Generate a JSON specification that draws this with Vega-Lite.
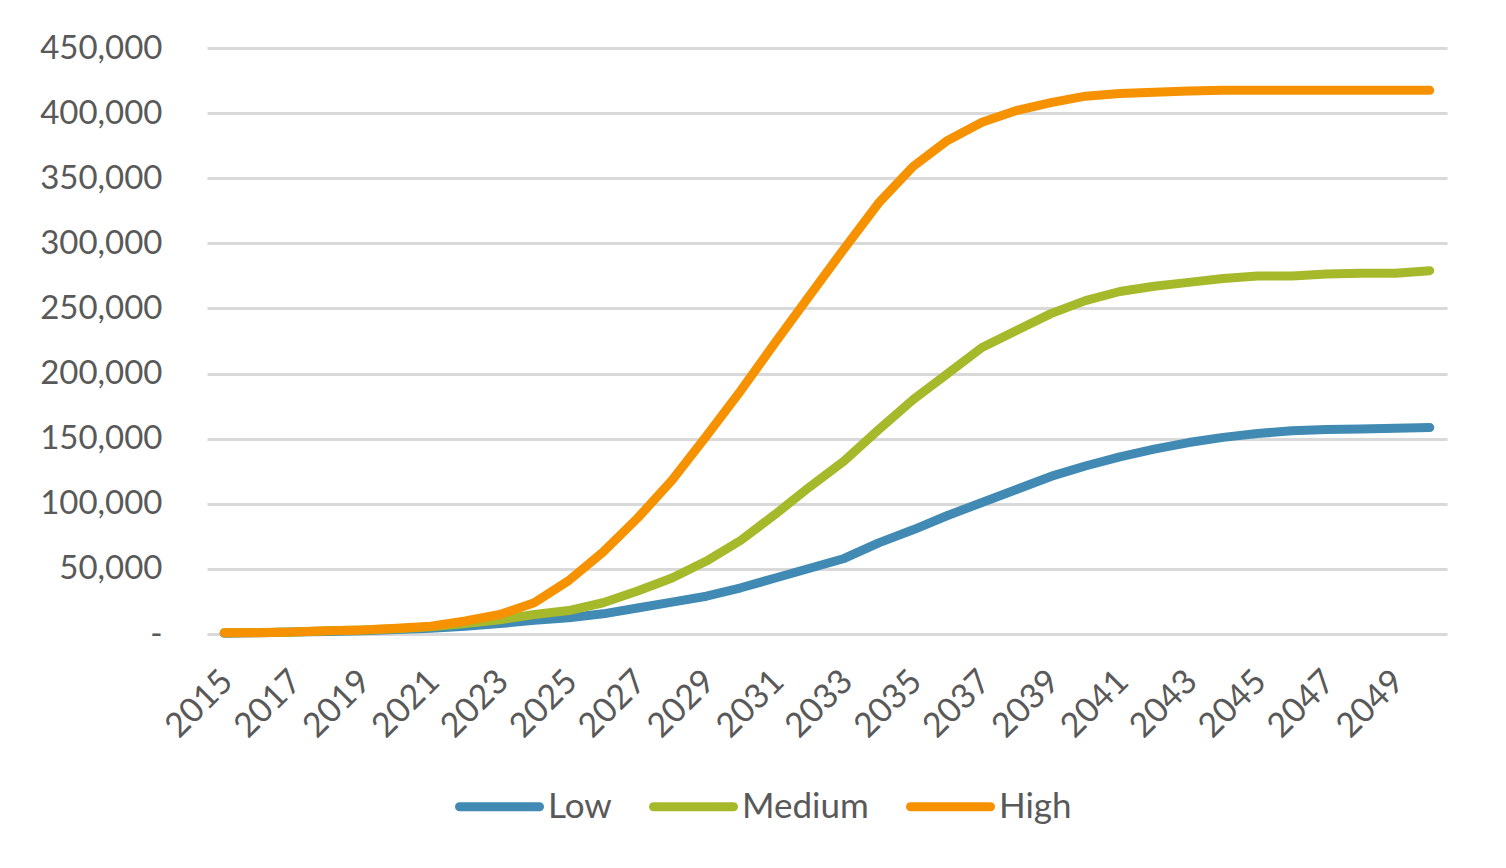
{
  "$schema": "https://vega.github.io/schema/vega-lite/v6.json",
  "width": 1240,
  "height": 586,
  "autosize": {"type": "none"},
  "padding": {"left": 207, "top": 48, "right": 59, "bottom": 234},
  "background": "white",
  "config": {
    "view": {"stroke": null},
    "font": "Lato",
    "axis": {"labelFont": "Lato", "labelFontSize": 33, "labelColor": "#595959"}
  },
  "data": {
    "values": [
      {"year": 2015, "scenario": "Low", "value": 500},
      {"year": 2016, "scenario": "Low", "value": 1000},
      {"year": 2017, "scenario": "Low", "value": 1500},
      {"year": 2018, "scenario": "Low", "value": 2000},
      {"year": 2019, "scenario": "Low", "value": 2500},
      {"year": 2020, "scenario": "Low", "value": 3500},
      {"year": 2021, "scenario": "Low", "value": 4500},
      {"year": 2022, "scenario": "Low", "value": 6000},
      {"year": 2023, "scenario": "Low", "value": 8000},
      {"year": 2024, "scenario": "Low", "value": 10500},
      {"year": 2025, "scenario": "Low", "value": 12500},
      {"year": 2026, "scenario": "Low", "value": 15500},
      {"year": 2027, "scenario": "Low", "value": 20000},
      {"year": 2028, "scenario": "Low", "value": 24500},
      {"year": 2029, "scenario": "Low", "value": 29000},
      {"year": 2030, "scenario": "Low", "value": 35500},
      {"year": 2031, "scenario": "Low", "value": 43000},
      {"year": 2032, "scenario": "Low", "value": 50500},
      {"year": 2033, "scenario": "Low", "value": 58000},
      {"year": 2034, "scenario": "Low", "value": 70000},
      {"year": 2035, "scenario": "Low", "value": 80000},
      {"year": 2036, "scenario": "Low", "value": 91000},
      {"year": 2037, "scenario": "Low", "value": 101000},
      {"year": 2038, "scenario": "Low", "value": 111000},
      {"year": 2039, "scenario": "Low", "value": 121000},
      {"year": 2040, "scenario": "Low", "value": 129000},
      {"year": 2041, "scenario": "Low", "value": 136000},
      {"year": 2042, "scenario": "Low", "value": 142000},
      {"year": 2043, "scenario": "Low", "value": 147000},
      {"year": 2044, "scenario": "Low", "value": 151000},
      {"year": 2045, "scenario": "Low", "value": 154000},
      {"year": 2046, "scenario": "Low", "value": 156000},
      {"year": 2047, "scenario": "Low", "value": 157000},
      {"year": 2048, "scenario": "Low", "value": 157500},
      {"year": 2049, "scenario": "Low", "value": 158000},
      {"year": 2050, "scenario": "Low", "value": 158500},
      {"year": 2015, "scenario": "Medium", "value": 1000},
      {"year": 2016, "scenario": "Medium", "value": 1200},
      {"year": 2017, "scenario": "Medium", "value": 1500},
      {"year": 2018, "scenario": "Medium", "value": 2500},
      {"year": 2019, "scenario": "Medium", "value": 3000},
      {"year": 2020, "scenario": "Medium", "value": 4000},
      {"year": 2021, "scenario": "Medium", "value": 5500},
      {"year": 2022, "scenario": "Medium", "value": 8000},
      {"year": 2023, "scenario": "Medium", "value": 11000},
      {"year": 2024, "scenario": "Medium", "value": 15000},
      {"year": 2025, "scenario": "Medium", "value": 18000},
      {"year": 2026, "scenario": "Medium", "value": 24000},
      {"year": 2027, "scenario": "Medium", "value": 33000},
      {"year": 2028, "scenario": "Medium", "value": 43000},
      {"year": 2029, "scenario": "Medium", "value": 56000},
      {"year": 2030, "scenario": "Medium", "value": 72000},
      {"year": 2031, "scenario": "Medium", "value": 92000},
      {"year": 2032, "scenario": "Medium", "value": 113000},
      {"year": 2033, "scenario": "Medium", "value": 133000},
      {"year": 2034, "scenario": "Medium", "value": 157000},
      {"year": 2035, "scenario": "Medium", "value": 180000},
      {"year": 2036, "scenario": "Medium", "value": 200000},
      {"year": 2037, "scenario": "Medium", "value": 220000},
      {"year": 2038, "scenario": "Medium", "value": 233000},
      {"year": 2039, "scenario": "Medium", "value": 246000},
      {"year": 2040, "scenario": "Medium", "value": 256000},
      {"year": 2041, "scenario": "Medium", "value": 263000},
      {"year": 2042, "scenario": "Medium", "value": 267000},
      {"year": 2043, "scenario": "Medium", "value": 270000},
      {"year": 2044, "scenario": "Medium", "value": 273000},
      {"year": 2045, "scenario": "Medium", "value": 275000},
      {"year": 2046, "scenario": "Medium", "value": 275000},
      {"year": 2047, "scenario": "Medium", "value": 276500},
      {"year": 2048, "scenario": "Medium", "value": 277000},
      {"year": 2049, "scenario": "Medium", "value": 277000},
      {"year": 2050, "scenario": "Medium", "value": 279000},
      {"year": 2015, "scenario": "High", "value": 1000},
      {"year": 2016, "scenario": "High", "value": 1000},
      {"year": 2017, "scenario": "High", "value": 1500},
      {"year": 2018, "scenario": "High", "value": 2500},
      {"year": 2019, "scenario": "High", "value": 3000},
      {"year": 2020, "scenario": "High", "value": 4500},
      {"year": 2021, "scenario": "High", "value": 6000},
      {"year": 2022, "scenario": "High", "value": 10000},
      {"year": 2023, "scenario": "High", "value": 15000},
      {"year": 2024, "scenario": "High", "value": 24000},
      {"year": 2025, "scenario": "High", "value": 41000},
      {"year": 2026, "scenario": "High", "value": 63000},
      {"year": 2027, "scenario": "High", "value": 89000},
      {"year": 2028, "scenario": "High", "value": 118000},
      {"year": 2029, "scenario": "High", "value": 152000},
      {"year": 2030, "scenario": "High", "value": 187000},
      {"year": 2031, "scenario": "High", "value": 224000},
      {"year": 2032, "scenario": "High", "value": 260000},
      {"year": 2033, "scenario": "High", "value": 296000},
      {"year": 2034, "scenario": "High", "value": 331000},
      {"year": 2035, "scenario": "High", "value": 359000},
      {"year": 2036, "scenario": "High", "value": 379000},
      {"year": 2037, "scenario": "High", "value": 393000},
      {"year": 2038, "scenario": "High", "value": 402000},
      {"year": 2039, "scenario": "High", "value": 408000},
      {"year": 2040, "scenario": "High", "value": 413000},
      {"year": 2041, "scenario": "High", "value": 415000},
      {"year": 2042, "scenario": "High", "value": 416000},
      {"year": 2043, "scenario": "High", "value": 417000},
      {"year": 2044, "scenario": "High", "value": 417500},
      {"year": 2045, "scenario": "High", "value": 417500},
      {"year": 2046, "scenario": "High", "value": 417500},
      {"year": 2047, "scenario": "High", "value": 417500},
      {"year": 2048, "scenario": "High", "value": 417500},
      {"year": 2049, "scenario": "High", "value": 417500},
      {"year": 2050, "scenario": "High", "value": 417500}
    ]
  },
  "mark": {"type": "line", "strokeWidth": 9, "strokeCap": "round", "strokeJoin": "round"},
  "encoding": {
    "x": {
      "field": "year",
      "type": "ordinal",
      "scale": {"type": "point", "padding": 0.5},
      "axis": {
        "title": null,
        "values": [2015, 2017, 2019, 2021, 2023, 2025, 2027, 2029, 2031, 2033, 2035, 2037, 2039, 2041, 2043, 2045, 2047, 2049],
        "labelAngle": -45,
        "labelPadding": 30,
        "labelOffset": -9,
        "labelFontSize": 34,
        "ticks": false,
        "domain": false,
        "grid": false
      }
    },
    "y": {
      "field": "value",
      "type": "quantitative",
      "scale": {"domain": [0, 450000], "nice": false},
      "axis": {
        "title": null,
        "values": [0, 50000, 100000, 150000, 200000, 250000, 300000, 350000, 400000, 450000],
        "labelExpr": "datum.value == 0 ? '-' : format(datum.value, ',')",
        "labelPadding": 45,
        "ticks": false,
        "domain": false,
        "grid": true,
        "gridColor": "#d9d9d9",
        "gridWidth": 3
      }
    },
    "color": {
      "field": "scenario",
      "type": "nominal",
      "scale": {"domain": ["Low", "Medium", "High"], "range": ["#418ab3", "#a6b92a", "#f69200"]},
      "legend": {
        "title": null,
        "orient": "none",
        "direction": "horizontal",
        "legendX": 248,
        "legendY": 714,
        "symbolType": "stroke",
        "symbolSize": 6400,
        "symbolStrokeWidth": 9,
        "labelFont": "Lato",
        "labelFontSize": 35,
        "labelColor": "#595959",
        "labelOffset": 4,
        "columnPadding": 23,
        "encode": {"symbols": {"update": {"strokeCap": {"value": "round"}}}}
      }
    }
  }
}
